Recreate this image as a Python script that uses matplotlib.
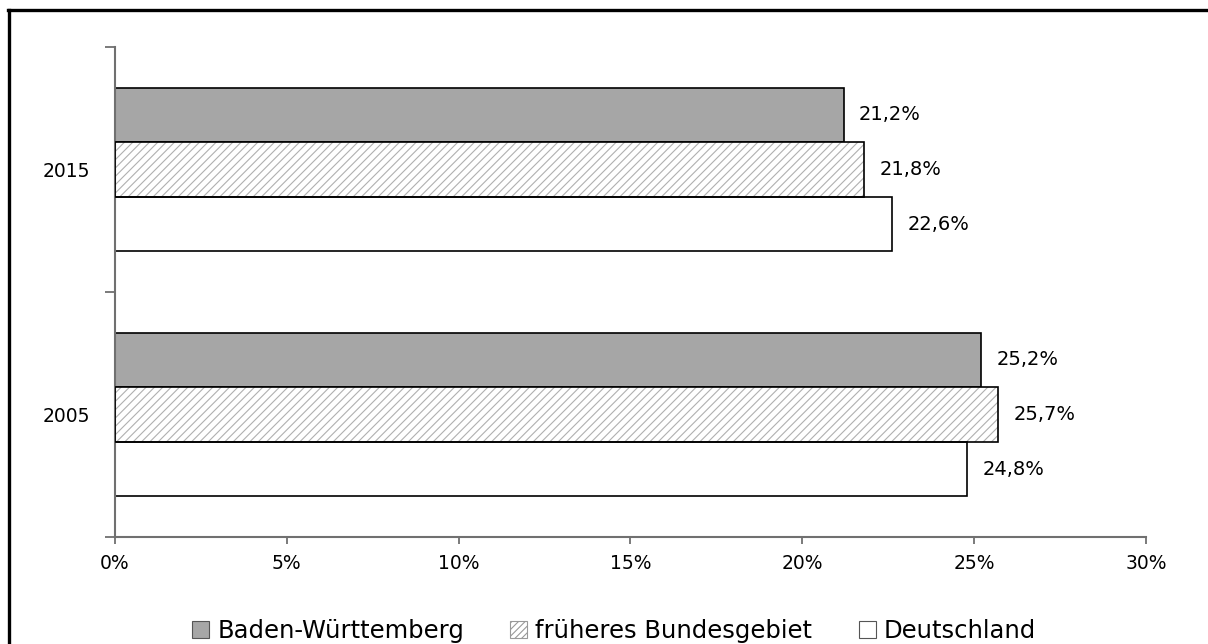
import numpy as np
import matplotlib.pyplot as plt
from matplotlib.patches import Patch
from matplotlib.lines import Line2D

plt.rcParams['font.family'] = ['DejaVu Sans']
plt.rcParams['hatch.linewidth'] = 0.8

# Werte in Prozent
jahre = ['2015', '2005']
serien = ['Baden-Württemberg', 'früheres Bundesgebiet', 'Deutschland']
bw = [21.2, 25.2]
frueher = [21.8, 25.7]
deutschland = [22.6, 24.8]
werte = [bw, frueher, deutschland]

grau = '#a6a6a6'
achse = '#707070'

fig = plt.figure(figsize=(12.08, 6.44), dpi=100)
ax = fig.add_axes([115/1208, 1-537/644, (1146-115)/1208, (537-47)/644])

h = 0.2225
y = np.arange(len(jahre))
for i, (name, w) in enumerate(zip(serien, werte)):
    pos = y + (i - 1) * h
    if i == 0:
        ax.barh(pos, w, height=h, color=grau, edgecolor='black', linewidth=1.2, zorder=2)
    elif i == 1:
        # Schraffur grau, Rand schwarz
        ax.barh(pos, w, height=h, color='white', edgecolor='#b0b0b0', hatch='////', linewidth=0, zorder=2)
        ax.barh(pos, w, height=h, fill=False, edgecolor='black', linewidth=1.2, zorder=3)
    else:
        ax.barh(pos, w, height=h, color='white', edgecolor='black', linewidth=1.2, zorder=2)
    for p, v in zip(pos, w):
        ax.text(v + 0.45, p, f'{v:.1f}%'.replace('.', ','), va='center', ha='left', fontsize=14)

ax.set_xlim(0, 30)
ax.set_ylim(1.5, -0.5)
ax.set_xticks(np.arange(0, 31, 5))
ax.set_xticklabels([f'{t}%' for t in range(0, 31, 5)], fontsize=13.5)
ax.set_yticks(y)
ax.set_yticklabels(jahre, fontsize=13.5)
ax.set_yticks([-0.5, 0.5, 1.5], minor=True)
ax.tick_params(axis='y', which='major', length=0, pad=18)
ax.tick_params(axis='y', which='minor', length=7, width=1.3, color=achse)
ax.tick_params(axis='x', length=5, width=1.3, color=achse, pad=7)
for s in ['top', 'right']:
    ax.spines[s].set_visible(False)
for s in ['left', 'bottom']:
    ax.spines[s].set_color(achse)
    ax.spines[s].set_linewidth(1.5)

handles = [
    Patch(facecolor=grau, edgecolor='#555555', linewidth=0.8),
    Patch(facecolor='white', edgecolor='#999999', hatch='/////', linewidth=0.8),
    Patch(facecolor='white', edgecolor='#555555', linewidth=0.8),
]
fig.legend(handles, serien, loc='center', bbox_to_anchor=(614/1208, 1-631/644), ncol=3,
           frameon=False, fontsize=17.5, handlelength=0.7, handleheight=0.7,
           handletextpad=0.33, columnspacing=1.9)

# Rahmen oben und links
fig.add_artist(Line2D([8/1208, 1], [1-10/644, 1-10/644], color='black', linewidth=2.4))
fig.add_artist(Line2D([9/1208, 9/1208], [0, 1-10/644], color='black', linewidth=2.4))

fig.savefig('out.png', dpi=100)
